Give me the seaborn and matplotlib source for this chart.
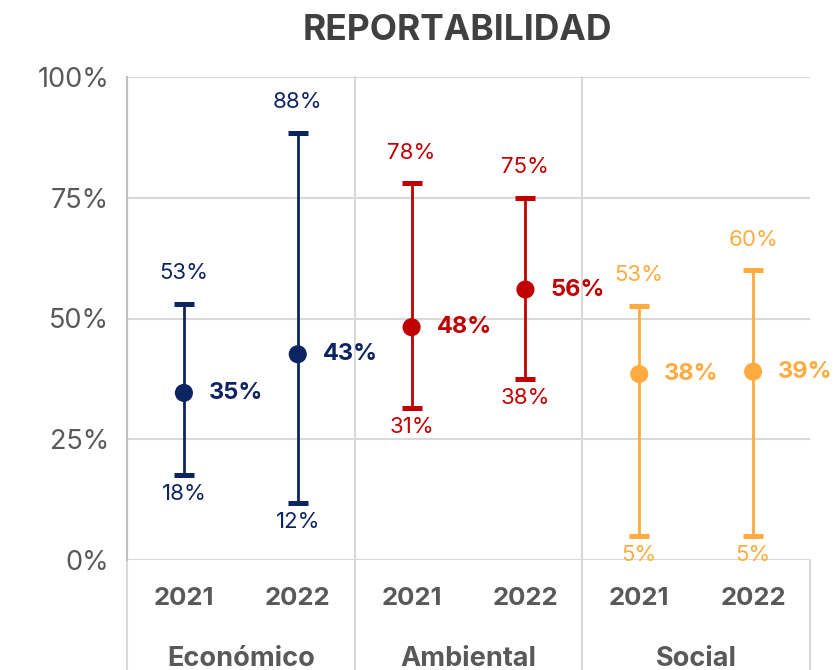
import numpy as np
import pandas as pd
import matplotlib
matplotlib.use("Agg")
import matplotlib.pyplot as plt
import seaborn as sns

# ---------------------------------------------------------------------------
# Data (percent)
# ---------------------------------------------------------------------------
groups = ["Económico", "Económico", "Ambiental", "Ambiental", "Social", "Social"]
years = ["2021", "2022", "2021", "2022", "2021", "2022"]
mins = [17.6, 11.8, 31.5, 37.5, 5.0, 5.0]
maxs = [53.0, 88.4, 78.0, 75.0, 52.6, 60.0]
means = [34.6, 42.6, 48.2, 56.0, 38.5, 39.0]
min_labels = ["18%", "12%", "31%", "38%", "5%", "5%"]
max_labels = ["53%", "88%", "78%", "75%", "53%", "60%"]
mean_labels = ["35%", "43%", "48%", "56%", "38%", "39%"]
group_names = ["Económico", "Ambiental", "Social"]

NAVY = "#0C2461"
RED = "#C00000"
ORANGE = "#FFAB40"
GRID = "#D9D9D9"
TEXT = "#595959"
palette = {"Económico": NAVY, "Ambiental": RED, "Social": ORANGE}

df = pd.DataFrame({"group": groups, "year": years, "min": mins,
                   "max": maxs, "mean": means})
df["x"] = np.arange(len(df))

sns.set_theme(style="white")
plt.rcParams["font.family"] = ["Inter", "DejaVu Sans"]

fig = plt.figure(figsize=(8.34, 6.70), dpi=100)
ax = fig.add_axes([127 / 834, 1 - 560 / 670, (810 - 127) / 834, (560 - 77) / 670])

# range bars with caps
for _, r in df.iterrows():
    c = palette[r["group"]]
    ax.vlines(r["x"], r["min"], r["max"], color=c, lw=2, zorder=3)
    ax.plot([r["x"], r["x"]], [r["min"], r["max"]], ls="none", marker="_",
            ms=14, mew=3.6, color=c, zorder=3)

sns.scatterplot(data=df, x="x", y="mean", hue="group", palette=palette,
                s=170, edgecolor="none", legend=False, ax=ax, zorder=4)

# labels
for i, r in df.iterrows():
    c = palette[r["group"]]
    ax.annotate(max_labels[i], (r["x"], r["max"]), xytext=(0, 22),
                textcoords="offset points", ha="center", va="center",
                fontsize=16, color=c)
    ax.annotate(min_labels[i], (r["x"], r["min"]), xytext=(0, -14),
                textcoords="offset points", ha="center", va="center",
                fontsize=16, color=c)
    ax.annotate(mean_labels[i], (r["x"], r["mean"]), xytext=(18, 0),
                textcoords="offset points", ha="left", va="center",
                fontsize=17, fontweight="bold", color=c)

ax.set_xlim(-0.5, 5.5)
ax.set_ylim(0, 100)
ax.set_yticks([0, 25, 50, 75, 100])
ax.set_yticklabels(["0%", "25%", "50%", "75%", "100%"], fontsize=19.5, color=TEXT)
ax.tick_params(axis="y", length=7, color="#BFBFBF", width=1, pad=6)
ax.set_xticks([])
ax.set_xlabel("")
ax.set_ylabel("")
ax.grid(axis="y", color=GRID, lw=1.5)
ax.set_axisbelow(True)
for s in ["top", "right", "bottom"]:
    ax.spines[s].set_visible(False)
ax.spines["left"].set_color("#BFBFBF")
ax.spines["left"].set_linewidth(1.5)

# category axis: years and groups
trans = ax.get_xaxis_transform()
for i, r in df.iterrows():
    ax.text(r["x"], -0.08, r["year"], transform=trans, ha="center",
            va="center", fontsize=18.5, fontweight="bold", color=TEXT)
for k, g in enumerate(group_names):
    ax.text(2 * k + 0.5, -0.204, g, transform=trans, ha="center",
            va="center", fontsize=19.5, fontweight="bold", color=TEXT)

# separator lines
bottom = -110 / 483
for xs in [-0.5, 1.5, 3.5]:
    ax.plot([xs, xs], [1, bottom], transform=trans, color=GRID, lw=1.5,
            clip_on=False, zorder=1)
ax.plot([5.5, 5.5], [0, bottom], transform=trans, color=GRID, lw=1.5,
        clip_on=False, zorder=1)

fig.suptitle("REPORTABILIDAD", x=0.549, y=0.955, va="center", fontsize=25.5,
             fontweight="bold", color="#404040")

fig.savefig("out.png", dpi=100, facecolor="white")
